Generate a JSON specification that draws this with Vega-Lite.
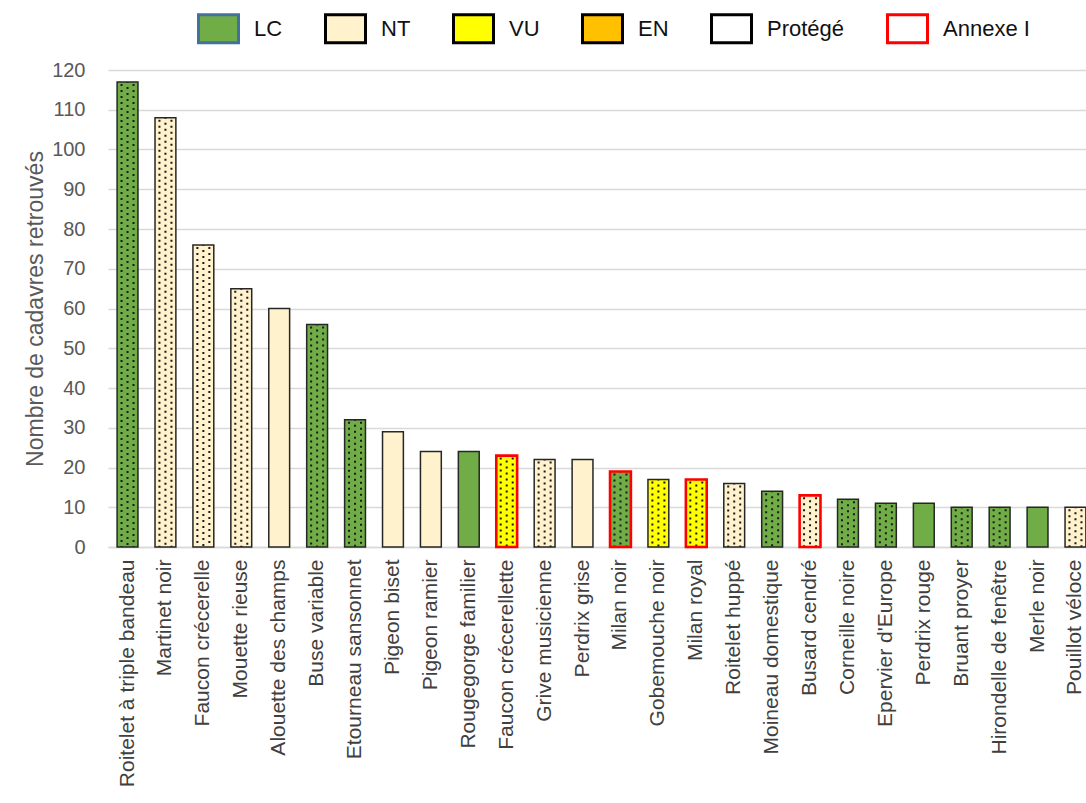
{
  "$schema": "https://vega.github.io/schema/vega-lite/v6.json",
  "autosize": {"type": "none"},
  "width": 987,
  "height": 477,
  "padding": {"left": 108, "top": 70, "right": 0, "bottom": 256},
  "background": "white",
  "config": {
    "view": {"stroke": null},
    "font": "Liberation Sans"
  },
  "data": {
    "values": [
      {"espece": "Roitelet à triple bandeau", "n": 117, "statut": "LC", "protege": "oui", "annexe": "non"},
      {"espece": "Martinet noir", "n": 108, "statut": "NT", "protege": "oui", "annexe": "non"},
      {"espece": "Faucon crécerelle", "n": 76, "statut": "NT", "protege": "oui", "annexe": "non"},
      {"espece": "Mouette rieuse", "n": 65, "statut": "NT", "protege": "oui", "annexe": "non"},
      {"espece": "Alouette des champs", "n": 60, "statut": "NT", "protege": "non", "annexe": "non"},
      {"espece": "Buse variable", "n": 56, "statut": "LC", "protege": "oui", "annexe": "non"},
      {"espece": "Etourneau sansonnet", "n": 32, "statut": "LC", "protege": "oui", "annexe": "non"},
      {"espece": "Pigeon biset", "n": 29, "statut": "NT", "protege": "non", "annexe": "non"},
      {"espece": "Pigeon ramier", "n": 24, "statut": "NT", "protege": "non", "annexe": "non"},
      {"espece": "Rougegorge familier", "n": 24, "statut": "LC", "protege": "non", "annexe": "non"},
      {"espece": "Faucon crécerellette", "n": 23, "statut": "VU", "protege": "oui", "annexe": "oui"},
      {"espece": "Grive musicienne", "n": 22, "statut": "NT", "protege": "oui", "annexe": "non"},
      {"espece": "Perdrix grise", "n": 22, "statut": "NT", "protege": "non", "annexe": "non"},
      {"espece": "Milan noir", "n": 19, "statut": "LC", "protege": "oui", "annexe": "oui"},
      {"espece": "Gobemouche noir", "n": 17, "statut": "VU", "protege": "oui", "annexe": "non"},
      {"espece": "Milan royal", "n": 17, "statut": "VU", "protege": "oui", "annexe": "oui"},
      {"espece": "Roitelet huppé", "n": 16, "statut": "NT", "protege": "oui", "annexe": "non"},
      {"espece": "Moineau domestique", "n": 14, "statut": "LC", "protege": "oui", "annexe": "non"},
      {"espece": "Busard cendré", "n": 13, "statut": "NT", "protege": "oui", "annexe": "oui"},
      {"espece": "Corneille noire", "n": 12, "statut": "LC", "protege": "oui", "annexe": "non"},
      {"espece": "Epervier d'Europe", "n": 11, "statut": "LC", "protege": "oui", "annexe": "non"},
      {"espece": "Perdrix rouge", "n": 11, "statut": "LC", "protege": "non", "annexe": "non"},
      {"espece": "Bruant proyer", "n": 10, "statut": "LC", "protege": "oui", "annexe": "non"},
      {"espece": "Hirondelle de fenêtre", "n": 10, "statut": "LC", "protege": "oui", "annexe": "non"},
      {"espece": "Merle noir", "n": 10, "statut": "LC", "protege": "non", "annexe": "non"},
      {"espece": "Pouillot véloce", "n": 10, "statut": "NT", "protege": "oui", "annexe": "non"}
    ]
  },
  "encoding": {
    "x": {
      "field": "espece", "type": "nominal", "sort": null,
      "scale": {"paddingInner": 0.45, "paddingOuter": 0.24},
      "axis": {
        "title": null, "labelAngle": -90, "labelPadding": 12, "labelFontSize": 21,
        "labelColor": "#404040", "ticks": false, "domainColor": "#D9D9D9", "domainWidth": 1.5,
        "labelLimit": 400
      }
    },
    "y": {
      "field": "n", "type": "quantitative",
      "scale": {"domain": [0, 120], "nice": false},
      "axis": {
        "title": "Nombre de cadavres retrouvés", "titleFontSize": 23, "titleFontWeight": "normal",
        "titleColor": "#595959", "titlePadding": 4,
        "values": [0, 10, 20, 30, 40, 50, 60, 70, 80, 90, 100, 110, 120],
        "labelFontSize": 20, "labelColor": "#595959", "labelPadding": 23,
        "ticks": false, "domain": false, "gridColor": "#D9D9D9", "gridWidth": 1.5
      }
    }
  },
  "layer": [
    {
      "mark": {"type": "bar"},
      "encoding": {
        "color": {
          "field": "statut", "type": "nominal",
          "scale": {
            "domain": ["LC", "NT", "VU", "EN", "Protégé", "Annexe I"],
            "range": ["#70AD47", "#FFF2CC", "#FFFF00", "#FFC000", "#FFFFFF", "#FFFFFF"]
          },
          "legend": {
            "title": null, "orient": "none", "legendX": 89, "legendY": -63,
            "direction": "horizontal", "columns": 6, "columnPadding": 36,
            "symbolType": "M-1,-0.7H1V0.7H-1Z", "symbolSize": 1600, "symbolStrokeWidth": 3,
            "symbolOpacity": 1,
            "labelFontSize": 22, "labelOffset": 14, "labelColor": "#111111",
            "encode": {
              "symbols": {
                "update": {
                  "stroke": {"signal": "datum.value === 'Annexe I' ? '#FF0000' : (datum.value === 'LC' ? '#41719C' : '#000000')"},
                  "strokeWidth": {"value": 3}
                }
              }
            }
          }
        }
      }
    },
    {
      "transform": [{"filter": "datum.protege === 'oui'"}],
      "mark": {"type": "rule", "xOffset": -6, "strokeDash": [2, 4], "strokeDashOffset": -2, "strokeWidth": 2, "color": "#1a1a1a"},
      "encoding": {"y2": {"datum": 0}}
    },
    {
      "transform": [{"filter": "datum.protege === 'oui'"}],
      "mark": {"type": "rule", "xOffset": 0, "strokeDash": [2, 4], "strokeDashOffset": -5, "strokeWidth": 2, "color": "#1a1a1a"},
      "encoding": {"y2": {"datum": 0}}
    },
    {
      "transform": [{"filter": "datum.protege === 'oui'"}],
      "mark": {"type": "rule", "xOffset": 6, "strokeDash": [2, 4], "strokeDashOffset": -2, "strokeWidth": 2, "color": "#1a1a1a"},
      "encoding": {"y2": {"datum": 0}}
    },
    {
      "mark": {"type": "bar", "filled": false},
      "encoding": {
        "stroke": {"condition": {"test": "datum.annexe === 'oui'", "value": "#FF0000"}, "value": "#262626"},
        "strokeWidth": {"condition": {"test": "datum.annexe === 'oui'", "value": 2.6}, "value": 1.5}
      }
    }
  ]
}
